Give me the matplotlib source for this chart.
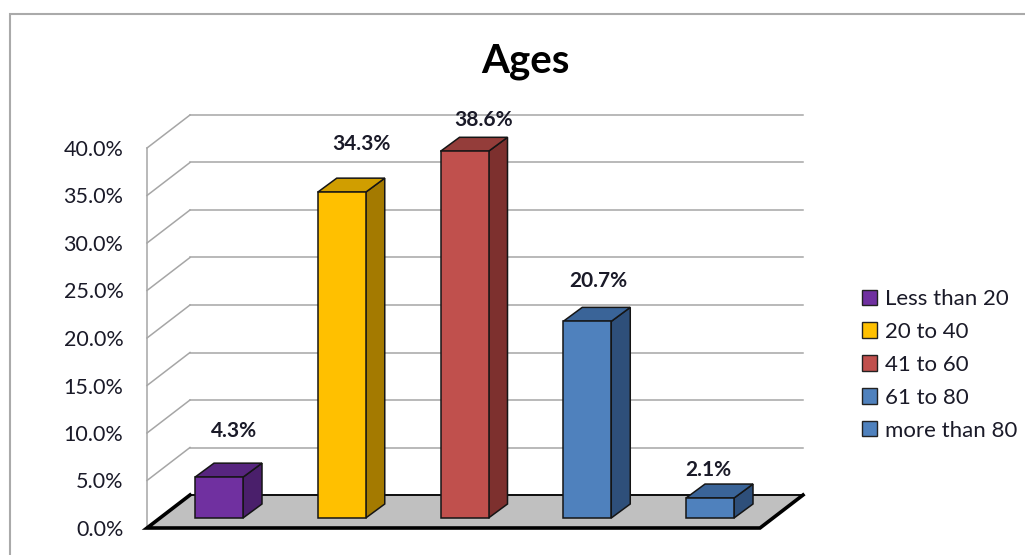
import matplotlib
matplotlib.use('Agg')
import matplotlib.pyplot as plt
from matplotlib.patches import Polygon, Rectangle, Patch

plt.rcParams['font.family'] = ['Lato', 'DejaVu Sans']

# ---- data ----
categories = ['Less than 20', '20 to 40', '41 to 60', '61 to 80', 'more than 80']
values = [4.3, 34.3, 38.6, 20.7, 2.1]
value_labels = ['4.3%', '34.3%', '38.6%', '20.7%', '2.1%']
yticks = [0, 5, 10, 15, 20, 25, 30, 35, 40]
ytick_labels = ['0.0%', '5.0%', '10.0%', '15.0%', '20.0%', '25.0%', '30.0%', '35.0%', '40.0%']
title = 'Ages'

# ---- styles ----
front_colors = ['#7030A0', '#FFC000', '#C0504D', '#4F81BD', '#4F81BD']
side_colors = ['#4A1F6B', '#A47A00', '#7D302E', '#2E4F7A', '#2E4F7A']
top_colors = ['#57257F', '#D09E00', '#943D3A', '#3A6498', '#3A6498']
label_dx_px = [15, 20, 19, 11, -2]
label_dy_px = [46, 48, 31, 40, 28]
text_c = '#1A1A28'

W, H = 1025, 555
fig = plt.figure(figsize=(W / 100, H / 100), dpi=100)

# pixel scale of the axes
PX_X = 122.75   # px per category step
PX_Y = 9.5      # px per percent
X0_PX = 219     # px of first bar centre
def xd(px):
    return (px - X0_PX) / PX_X

ax = fig.add_axes([147 / W, (H - 528) / H, (803 - 147) / W, 380 / H])
ax.set_xlim(xd(147), xd(803))
ax.set_ylim(0, 40)
ax.patch.set_alpha(0)
for s in ['top', 'right', 'bottom']:
    ax.spines[s].set_visible(False)
ax.spines['left'].set_color('#A6A6A6')
ax.spines['left'].set_linewidth(1.1)
ax.spines['left'].set_zorder(1)
ax.set_xticks([])
ax.set_yticks(yticks, ytick_labels)
ax.tick_params(axis='y', length=0, pad=17, labelsize=15.5, labelcolor=text_c)

# back wall depth
wdy = 33 / PX_Y
grid_c = '#A6A6A6'
for t in yticks:
    ax.plot([xd(147), xd(190)], [t, t + wdy], color=grid_c, lw=1.1, zorder=1, clip_on=False)
    ax.plot([xd(190), xd(803)], [t + wdy, t + wdy], color=grid_c, lw=1.1, zorder=1, clip_on=False)

# floor
floor = Polygon([(xd(147), 0), (xd(760), 0), (xd(803), wdy), (xd(190), wdy)],
                closed=True, facecolor='#C0C0C0', edgecolor='black', lw=1.3, zorder=2, clip_on=False)
ax.add_patch(floor)
ax.plot([xd(190), xd(147), xd(760), xd(803)], [wdy, 0, 0, wdy], color='black', lw=2.6,
        solid_joinstyle='miter', zorder=3, clip_on=False)

# bars
xs = list(range(len(values)))
bw = 48 / PX_X
base = 10 / PX_Y
ddx = 19 / PX_X
ddy = 14 / PX_Y
ax.bar(xs, values, width=bw, bottom=base, color=front_colors, edgecolor='#151515',
       linewidth=1.1, zorder=5, clip_on=False)
for x, v, sc, tc in zip(xs, values, side_colors, top_colors):
    r = x + bw / 2
    l = x - bw / 2
    top = base + v
    ax.add_patch(Polygon([(r, base), (r + ddx, base + ddy), (r + ddx, top + ddy), (r, top)],
                         closed=True, facecolor=sc, edgecolor='#151515', lw=1.1, zorder=4,
                         clip_on=False))
    ax.add_patch(Polygon([(l, top), (r, top), (r + ddx, top + ddy), (l + ddx, top + ddy)],
                         closed=True, facecolor=tc, edgecolor='#151515', lw=1.1, zorder=4,
                         clip_on=False))

# value labels
for x, v, lab, dxp, dyp in zip(xs, values, value_labels, label_dx_px, label_dy_px):
    ax.text(x + dxp / PX_X, base + v + dyp / PX_Y, lab, ha='center', va='center',
            fontsize=15, fontweight='bold', color=text_c, zorder=6, clip_on=False)

# title
fig.text(525 / W, 1 - 62 / H, title, ha='center', va='center', fontsize=29,
         fontweight='bold', color='black')

# legend
handles = [Patch(facecolor=c, edgecolor='#222222', linewidth=1.0) for c in front_colors]
fig.legend(handles, categories, loc='upper left', bbox_to_anchor=(862 / W, 1 - 289 / H),
           frameon=False, fontsize=16, handlelength=0.68, handleheight=0.68,
           handletextpad=0.36, labelspacing=0.58, borderpad=0, borderaxespad=0,
           labelcolor=text_c)

# chart border
fig.add_artist(Rectangle((10 / W, -0.1), 1.2, (H - 14) / H + 0.1, transform=fig.transFigure,
                         fill=False, edgecolor='#AAAAAA', lw=1.5))

fig.savefig('out.png', dpi=100)
